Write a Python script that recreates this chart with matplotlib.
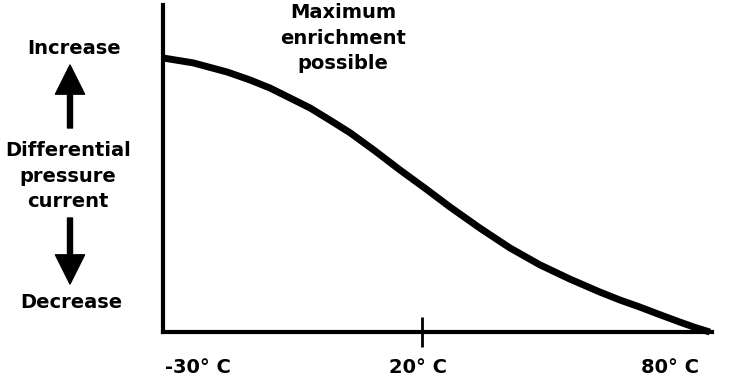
import matplotlib
matplotlib.use("Agg")
import matplotlib.pyplot as plt

# schematic curve, both axes on a 0-100 scale
curve_x = [0, 5.5, 11.7, 15.8, 19.5, 23.1, 26.8, 30.4, 34.1, 38.6, 43.2, 47.7,
           52.3, 57.7, 63.2, 68.7, 74.1, 79.6, 83.2, 86.9, 90.5, 94.2, 96.9, 99.6]
curve_y = [83.8, 82.3, 79.5, 77.1, 74.6, 71.6, 68.5, 64.8, 60.9, 55.4, 49.5, 44.0,
           38.2, 31.8, 25.7, 20.5, 16.2, 12.2, 9.8, 7.6, 5.3, 3.0, 1.4, 0.0]
temp_labels = ["-30° C", "20° C", "80° C"]
temp_label_x = [0.063, 0.465, 0.924]
mid_tick = 47.2
y_words = ["Increase", "Differential\npressure\ncurrent", "Decrease"]
peak_note = "Maximum\nenrichment\npossible"

plt.rcParams["font.family"] = ["DejaVu Sans"]

fig = plt.figure(figsize=(7.36, 3.80), dpi=100)
ax = fig.add_axes([163 / 736, 48 / 380, 549 / 736, 327 / 380])

ax.plot(curve_x, curve_y, color="black", lw=5.0, solid_capstyle="butt",
        solid_joinstyle="round", clip_on=False)
ax.set_xlim(0, 100)
ax.set_ylim(0, 100)

for s in ["top", "right"]:
    ax.spines[s].set_visible(False)
for s in ["left", "bottom"]:
    ax.spines[s].set_linewidth(3)
ax.set_yticks([])
ax.set_xticks([mid_tick])
ax.set_xticklabels([""])
ax.tick_params(axis="x", direction="inout", length=21, width=2)

for lab, xp in zip(temp_labels, temp_label_x):
    ax.text(xp, -0.11, lab, transform=ax.transAxes, ha="center", va="center",
            fontsize=14, fontweight="bold")

fs = dict(fontsize=14, fontweight="bold", ha="center", va="center", linespacing=1.42)
fig.text(74 / 736, 1 - 48 / 380, y_words[0], **fs)
fig.text(68 / 736, 1 - 176 / 380, y_words[1], **fs)
fig.text(71 / 736, 1 - 302 / 380, y_words[2], **fs)
fig.text(343 / 736, 1 - 38 / 380, peak_note, **fs)

arrow = dict(width=3.6, headwidth=21, headlength=21, color="black", shrink=0)
ax.annotate("", xy=(70, 380 - 65), xytext=(70, 380 - 128), xycoords="figure pixels",
            textcoords="figure pixels", arrowprops=arrow)
ax.annotate("", xy=(70, 380 - 284), xytext=(70, 380 - 218), xycoords="figure pixels",
            textcoords="figure pixels", arrowprops=arrow)

fig.savefig("out.png", dpi=100)
